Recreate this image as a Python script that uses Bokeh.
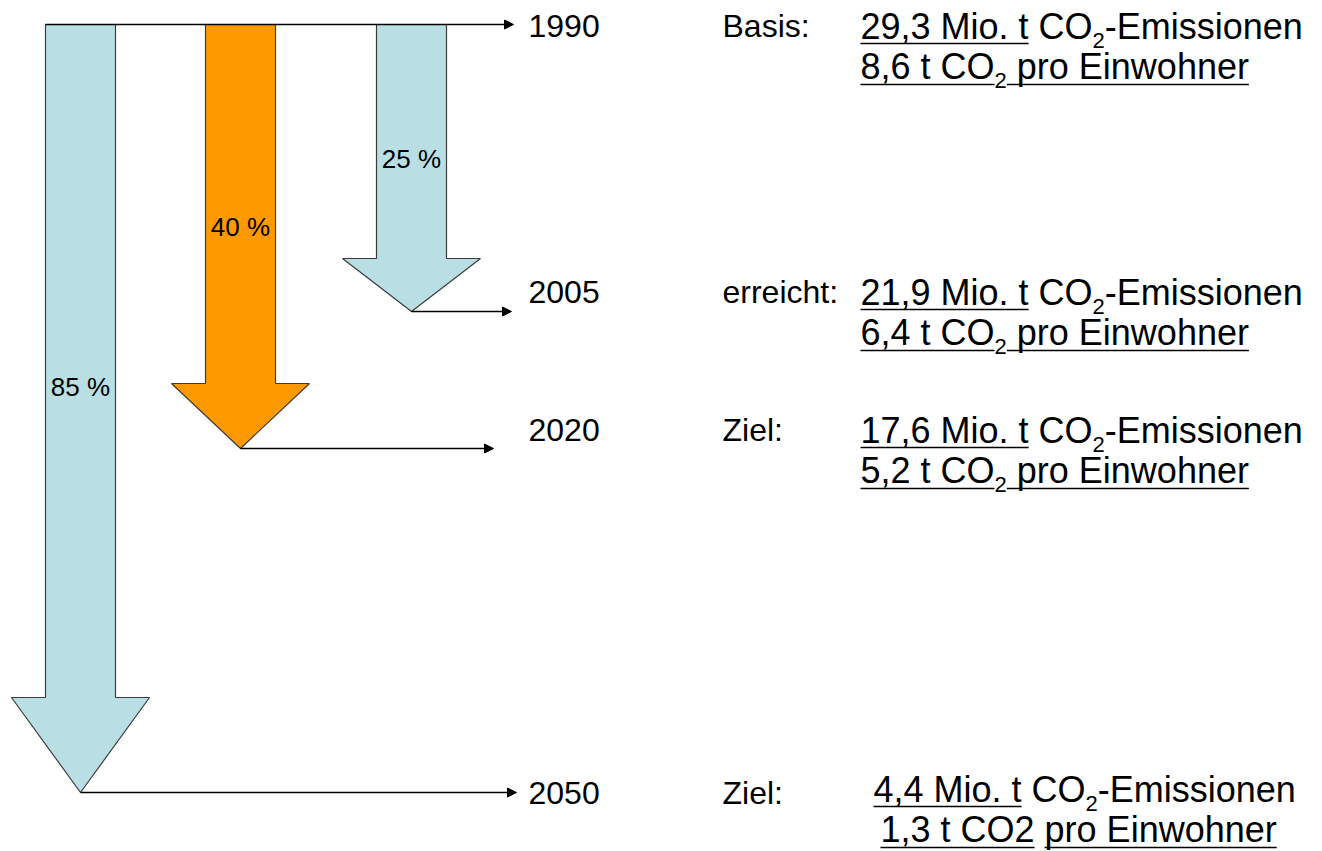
from bokeh.plotting import figure
from bokeh.models import ColumnDataSource, Range1d, Arrow, NormalHead
from bokeh.core.properties import value
from bokeh.embed import file_html
from bokeh.resources import INLINE

# ---------------- data ----------------
years = ["1990", "2005", "2020", "2050"]
status = ["Basis:", "erreicht:", "Ziel:", "Ziel:"]
emissions_mio_t = ["29,3", "21,9", "17,6", "4,4"]
per_capita_t = ["8,6", "6,4", "5,2", "1,3"]
reduction_labels = ["85 %", "40 %", "25 %"]
reduction_target = ["2050", "2020", "2005"]
reduction_color = ["#b9dfe4", "#ff9900", "#b9dfe4"]

# ---------------- layout (screen-pixel space) ----------------
ROW_LINE_Y = {"1990": 24, "2005": 311, "2020": 448, "2050": 792}
ROW_TEXT_Y = {"1990": 25, "2005": 291, "2020": 429, "2050": 792}
INFO_Y = {"1990": 26, "2005": 292, "2020": 430, "2050": 789}
ROW_LINE_END = {"1990": 513, "2005": 511, "2020": 493, "2050": 516}
ARROW_CX = [80, 240, 411]
ARROW_SHAFT_HW = 35
ARROW_HEAD_HW = 69
ARROW_HEAD_LEN = [95, 65, 53]
PCT_LABEL_Y = [386, 226, 158]
YEAR_X = 528
STATUS_X = 722
INFO_X = [860, 860, 860, 873]
LINE2_DY = 40
FONT = "Liberation Sans"
S_LABEL = 32
S_INFO = 36
S_SUB = 22
S_PCT = 26

# Arial / Liberation Sans advance widths (per 1000 em)
W = {" ": 278, ",": 278, ".": 278, "-": 333, ":": 278, "%": 889,
     "B": 667, "C": 722, "E": 667, "M": 833, "O": 778, "Z": 611,
     "a": 556, "c": 500, "e": 556, "h": 556, "i": 222, "l": 222, "m": 833,
     "n": 556, "o": 556, "p": 556, "r": 333, "s": 500, "t": 278, "w": 722}


def tw(s, size):
    return sum(W.get(ch, 556) for ch in s) * size / 1000.0


p = figure(width=1316, height=850, output_backend="svg", toolbar_location=None,
           x_range=Range1d(0, 1316), y_range=Range1d(850, 0),
           min_border=0, outline_line_color=None, background_fill_color="white")
p.axis.visible = False
p.grid.visible = False

# ---------------- big arrows ----------------
top = ROW_LINE_Y["1990"]
xs, ys = [], []
for cx, hl, tgt in zip(ARROW_CX, ARROW_HEAD_LEN, reduction_target):
    tip = ROW_LINE_Y[tgt]
    base = tip - hl
    xs.append([cx - ARROW_SHAFT_HW, cx + ARROW_SHAFT_HW, cx + ARROW_SHAFT_HW,
               cx + ARROW_HEAD_HW, cx, cx - ARROW_HEAD_HW, cx - ARROW_SHAFT_HW])
    ys.append([top, top, base, base, tip, base, base])
p.patches(xs=xs, ys=ys, fill_color=reduction_color, line_color="#3c3c3c", line_width=1.2)

# ---------------- year lines with arrow heads ----------------
tip_x = {t: cx for t, cx in zip(reduction_target, ARROW_CX)}
tip_x["1990"] = ARROW_CX[0] - ARROW_SHAFT_HW
line_src = ColumnDataSource(dict(
    x0=[tip_x[y] for y in years],
    y0=[ROW_LINE_Y[y] for y in years],
    x1=[ROW_LINE_END[y] for y in years],
    y1=[ROW_LINE_Y[y] for y in years]))
p.add_layout(Arrow(source=line_src, x_start="x0", y_start="y0", x_end="x1", y_end="y1",
                   line_color="black", line_width=1.3,
                   end=NormalHead(size=9, fill_color="black", line_color="black", line_width=1)))

# ---------------- percent labels ----------------
p.text(x=ARROW_CX, y=PCT_LABEL_Y, text=reduction_labels, text_font=value(FONT),
       text_font_size=value(f"{S_PCT}px"), text_align="center", text_baseline="middle",
       text_color="black")

# ---------------- year & status labels ----------------
lab_y = [ROW_TEXT_Y[y] for y in years]
p.text(x=[YEAR_X] * 4, y=lab_y, text=years, text_font=value(FONT),
       text_font_size=value(f"{S_LABEL}px"), text_baseline="middle", text_color="black")
p.text(x=[STATUS_X] * 4, y=lab_y, text=status, text_font=value(FONT),
       text_font_size=value(f"{S_LABEL}px"), text_baseline="middle", text_color="black")

# ---------------- info texts ----------------
main_x, main_y, main_t = [], [], []
sub_x, sub_y, sub_t = [], [], []
ul_x0, ul_x1, ul_y = [], [], []

CAP_MAIN = 0.358 * S_INFO
CAP_SUB = 0.358 * S_SUB
SUB_DROP = 9


def add_sub(x, center):
    base = center + CAP_MAIN + SUB_DROP
    sub_x.append(x); sub_y.append(base - CAP_SUB); sub_t.append("2")
    return x + tw("2", S_SUB)


for i, yr in enumerate(years):
    x0 = INFO_X[i]
    c1 = INFO_Y[yr]
    c2 = c1 + LINE2_DY
    u1 = c1 + CAP_MAIN + 4
    u2 = c2 + CAP_MAIN + 5
    # line 1
    a = f"{emissions_mio_t[i]} Mio. t"
    main_x.append(x0); main_y.append(c1); main_t.append(a)
    ul_x0.append(x0); ul_x1.append(x0 + tw(a, S_INFO)); ul_y.append(u1)
    xc = x0 + tw(a + " ", S_INFO)
    main_x.append(xc); main_y.append(c1); main_t.append("CO")
    xe = add_sub(xc + tw("CO", S_INFO), c1)
    main_x.append(xe); main_y.append(c1); main_t.append("-Emissionen")
    # line 2
    if i < 3:
        c = f"{per_capita_t[i]} t CO"
        main_x.append(x0); main_y.append(c2); main_t.append(c)
        ul_x0.append(x0); ul_x1.append(x0 + tw(c, S_INFO)); ul_y.append(u2)
        xr = add_sub(x0 + tw(c, S_INFO), c2)
        rest = "pro Einwohner"
        xp = xr + tw(" ", S_INFO)
        main_x.append(xp); main_y.append(c2); main_t.append(rest)
        ul_x0.append(xr); ul_x1.append(xp + tw(rest, S_INFO)); ul_y.append(u2)
    else:
        xl = x0 + 7
        c = f"{per_capita_t[i]} t CO2"
        main_x.append(xl); main_y.append(c2); main_t.append(c)
        ul_x0.append(xl); ul_x1.append(xl + tw(c, S_INFO)); ul_y.append(u2)
        xr = xl + tw(c + " ", S_INFO)
        rest = "pro Einwohner"
        main_x.append(xr); main_y.append(c2); main_t.append(rest)
        ul_x0.append(xr); ul_x1.append(xr + tw(rest, S_INFO)); ul_y.append(u2)

p.text(x=main_x, y=main_y, text=main_t, text_font=value(FONT),
       text_font_size=value(f"{S_INFO}px"), text_baseline="middle", text_color="black")
p.text(x=sub_x, y=sub_y, text=sub_t, text_font=value(FONT),
       text_font_size=value(f"{S_SUB}px"), text_baseline="middle", text_color="black")
p.segment(x0=ul_x0, y0=ul_y, x1=ul_x1, y1=ul_y, line_color="black", line_width=1.5)

open("out.html", "w").write(file_html(p, INLINE))
